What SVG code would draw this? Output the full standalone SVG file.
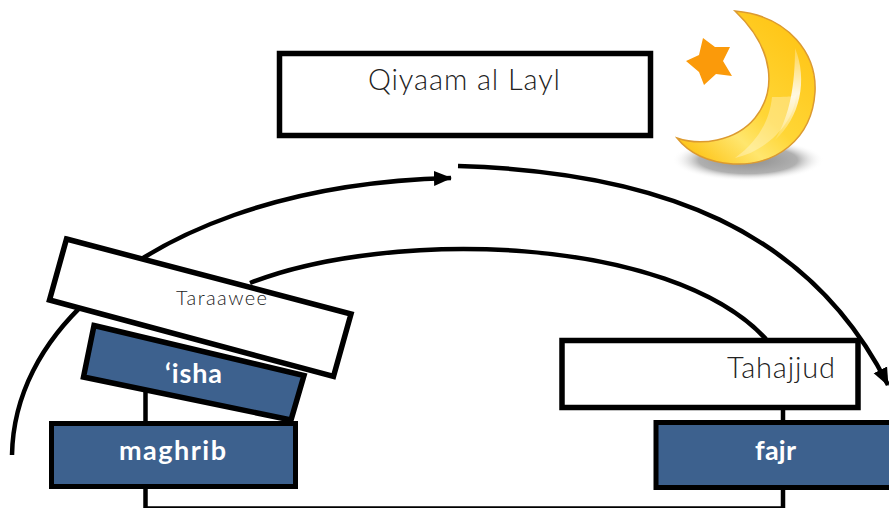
<svg xmlns="http://www.w3.org/2000/svg" width="889" height="508" viewBox="0 0 889 508">
<defs>
<marker id="arrow" markerUnits="userSpaceOnUse" markerWidth="20" markerHeight="16" refX="17" refY="8" orient="auto"><path d="M0 0.500L18 8L0 15.500Z" fill="#000"/></marker>
<linearGradient id="moonGrad" x1="0.9" y1="0.1" x2="0.2" y2="1"><stop offset="0" stop-color="#ffc414"/><stop offset="0.55" stop-color="#ffd636"/><stop offset="0.75" stop-color="#ffe66e"/><stop offset="1" stop-color="#fdc61c"/></linearGradient>
<linearGradient id="glow" x1="0" y1="0" x2="0" y2="1"><stop offset="0" stop-color="#fff" stop-opacity="0.2"/><stop offset="0.5" stop-color="#fff" stop-opacity="0.85"/><stop offset="1" stop-color="#fff" stop-opacity="0.1"/></linearGradient>
<radialGradient id="shadowGrad"><stop offset="0" stop-color="#8d8d8d"/><stop offset="0.65" stop-color="#b0b0b0"/><stop offset="1" stop-color="#fff" stop-opacity="0"/></radialGradient>
<style>
.box{fill:#fff;stroke:#000;stroke-width:5.5}
.blue{fill:#3d618e;stroke:#000;stroke-width:5}
.tilt{stroke-width:5.5}
.line{fill:none;stroke:#000;stroke-width:4.5}
.curve{fill:none;stroke:#000;stroke-width:4.5}
.lab{font-family:"Lato","Liberation Sans",sans-serif}
.dark{fill:#222;font-size:29px;font-weight:300}
.white{fill:#fff;font-size:27px;font-weight:700}
</style>
</defs>
<g id="connectors">
<path class="curve" d="M12 455C13 395 42 342 88 300C160 232 285 182 451 178" marker-end="url(#arrow)"/>
<path class="curve" d="M458 166C660 172 810 230 888 385" marker-end="url(#arrow)"/>
<path class="curve" d="M250 283C390 228 670 235 766 339"/>
<path class="line" d="M145.500 390V422M145.500 487V508.500H783V488M783 408V422"/>
</g>
<g id="node-qiyaam"><rect class="box" x="279.500" y="53.500" width="371" height="82"/><text class="lab dark" x="368" y="90" textLength="192" lengthAdjust="spacing">Qiyaam al Layl</text></g>
<g id="moon">
<ellipse cx="748" cy="160" rx="76" ry="21" fill="url(#shadowGrad)"/>
<path d="M735 11C790 16 817 55 815 92C812 140 775 166 733 164C705 162 688 152 677 138C700 146 735 142 755 118C776 92 776 50 735 11Z" fill="url(#moonGrad)" stroke="#dc9a30" stroke-width="1.500"/>
<path d="M795 48C808 80 800 118 775 140C790 115 795 85 795 48Z" fill="url(#glow)"/>
<path d="M772 97C790 97 794 96 796 95C795 120 770 150 735 158C760 140 770 118 772 97Z" fill="#fff" fill-opacity="0.3"/>
<path d="M703 38L715 47L730 47L723 61L732 76L716 74L704 85L699 72L686 61L699 55Z" fill="#fb9a0a"/>
</g>
<g id="node-isha"><path class="blue tilt" d="M94 325.500L304 375.500L291 420L83.500 377Z"/><text class="lab white" x="165" y="383" textLength="57" lengthAdjust="spacing">‘isha</text></g>
<g id="node-taraawee"><path class="box" d="M66.500 239L351 314L333.500 376.500L49.500 300Z"/><text class="lab dark" x="176" y="305" textLength="91" lengthAdjust="spacing" style="font-size:20px">Taraawee</text></g>
<g id="node-maghrib"><rect class="blue" x="51.500" y="423.500" width="244" height="63"/><text class="lab white" x="119" y="460" textLength="107" lengthAdjust="spacing">maghrib</text></g>
<g id="node-tahajjud"><rect class="box" x="562" y="340.500" width="296" height="67"/><text class="lab dark" x="727" y="378" textLength="108" lengthAdjust="spacing">Tahajjud</text></g>
<g id="node-fajr"><rect class="blue" x="656" y="422.500" width="240" height="65"/><text class="lab white" x="755" y="460" textLength="41" lengthAdjust="spacing">fajr</text></g>
</svg>
